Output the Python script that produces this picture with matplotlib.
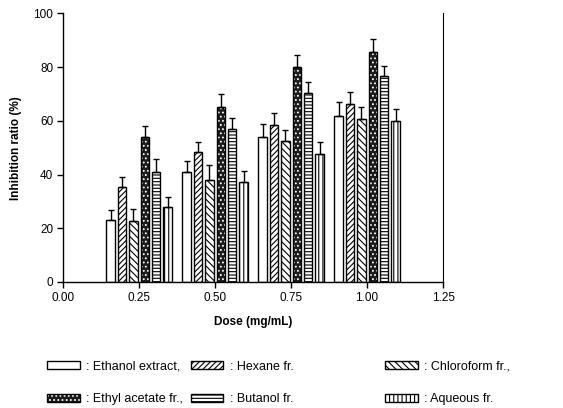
import matplotlib
matplotlib.use("Agg")
import matplotlib.pyplot as plt
import numpy as np

plt.rcParams['font.family'] = ['Liberation Sans', 'DejaVu Sans']
plt.rcParams['hatch.linewidth'] = 0.8

# --- data: inhibition ratio (%) by dose ---
doses = [0.25, 0.50, 0.75, 1.00]
ethanol = [23.1, 40.8, 54.1, 61.8]
ethanol_err = [3.7, 4.2, 4.7, 5.1]
hexane = [35.2, 48.3, 58.4, 66.1]
hexane_err = [4.0, 3.8, 4.6, 4.7]
chloroform = [22.7, 38.0, 52.5, 60.6]
chloroform_err = [4.5, 5.4, 4.1, 4.4]
ethyl_acetate = [53.9, 65.2, 80.1, 85.5]
ethyl_acetate_err = [4.2, 4.8, 4.3, 4.9]
butanol = [40.9, 56.8, 70.2, 76.8]
butanol_err = [5.0, 4.3, 4.3, 3.8]
aqueous = [28.0, 37.1, 47.5, 60.0]
aqueous_err = [3.7, 4.2, 4.8, 4.6]

labels = [": Ethanol extract,", ": Hexane fr.", ": Chloroform fr.,",
          ": Ethyl acetate fr.,", ": Butanol fr.", ": Aqueous fr."]
series = [ethanol, hexane, chloroform, ethyl_acetate, butanol, aqueous]
errors = [ethanol_err, hexane_err, chloroform_err, ethyl_acetate_err, butanol_err, aqueous_err]
hatches = ['', '//////', '\\\\\\\\\\', '....', '-----', '||||']

fig = plt.figure(figsize=(5.63, 4.08), dpi=100)
ax = fig.add_axes([0.112, 0.309, 0.675, 0.658])

step = 0.0375
width = 0.028
x = np.array(doses)
handles = []
for i, (vals, err, h) in enumerate(zip(series, errors, hatches)):
    pos = x + (i - 2.5) * step
    if h == '....':
        # dark fill with white dots, then black outline on top
        b1 = ax.bar(pos, vals, width, color='#1c1c1c', edgecolor='white', hatch=h, linewidth=0)
        b2 = ax.bar(pos, vals, width, facecolor='none', edgecolor='black', linewidth=1.0)
        handles.append((b1[0], b2[0]))
    else:
        b = ax.bar(pos, vals, width, color='white', edgecolor='black', hatch=h, linewidth=1.0)
        handles.append(b[0])
    ax.errorbar(pos, vals, yerr=[np.zeros(len(vals)), err], fmt='none',
                ecolor='black', elinewidth=1.0, capsize=2.5, capthick=1.0)

ax.set_xlim(0, 1.25)
ax.set_ylim(0, 100)
ax.set_xticks([0, 0.25, 0.5, 0.75, 1.0, 1.25])
ax.set_xticklabels(['0.00', '0.25', '0.50', '0.75', '1.00', '1.25'])
ax.set_yticks(range(0, 101, 20))
ax.tick_params(direction='out', length=4, width=1, labelsize=8.5, pad=3)
ax.spines['top'].set_visible(False)
for s in ['left', 'bottom']:
    ax.spines[s].set_linewidth(1.0)
ax.spines['right'].set_linewidth(0.8)

ax.set_xlabel('Dose (mg/mL)', fontsize=8.5, fontweight='bold', labelpad=9)
ax.set_ylabel('Inhibition ratio (%)', fontsize=8.5, fontweight='bold', labelpad=8)

# legend laid out as three columns of two rows
col_x = [0.075, 0.33, 0.675]
for c in range(3):
    hs = [handles[c], handles[c + 3]]
    ls = [labels[c], labels[c + 3]]
    fig.legend(hs, ls, loc='upper left', bbox_to_anchor=(col_x[c], 0.128),
               frameon=False, fontsize=9, handlelength=2.6, handleheight=0.6,
               handletextpad=0.5, labelspacing=1.65, borderaxespad=0)

fig.savefig('out.png', dpi=100)
